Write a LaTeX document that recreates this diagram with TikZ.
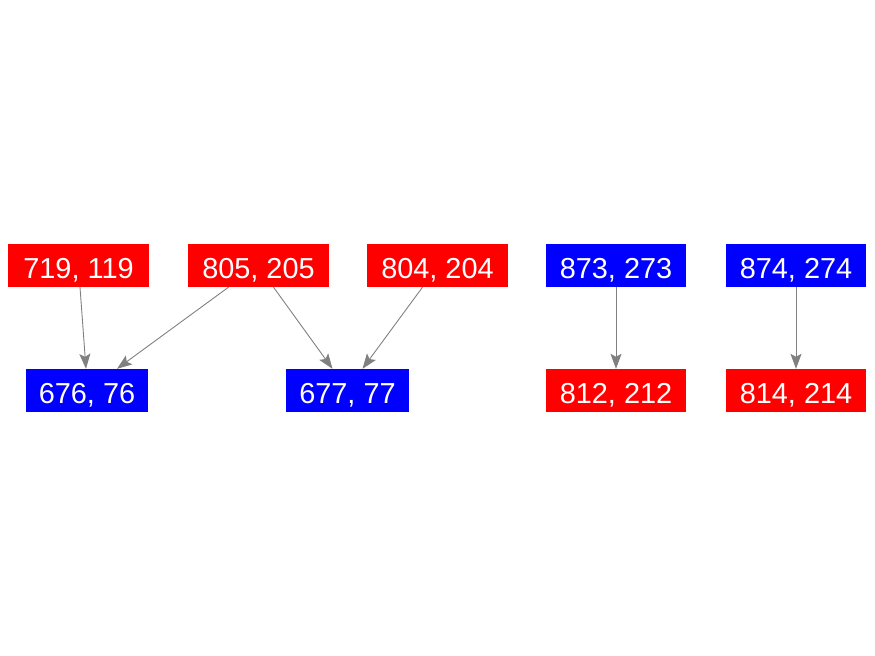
\documentclass[tikz,border=0pt]{standalone}
\usepackage{fontspec}
\setmainfont{Liberation Sans}
\usepackage{tikz}
\usetikzlibrary{arrows.meta, positioning}

\begin{document}
\begin{tikzpicture}[
		x=1bp, y=-1bp,
		font=\fontsize{29}{32}\selectfont,
		redbox/.style={rectangle, fill=red, text=white, inner sep=0pt,
			text height=26bp, text depth=0bp,
			minimum width=141bp, minimum height=43bp},
		bluebox/.style={rectangle, fill=blue, text=white, inner sep=0pt,
			text height=26bp, text depth=0bp,
			minimum width=122bp, minimum height=43bp},
		line/.style={-{Stealth[length=15bp, width=11bp, inset=3bp]}, draw=gray, line width=0.9bp}
		]
		\useasboundingbox (0,0) rectangle (875,656);
		
		% 1. Fila superior
		\node[redbox] (n719) at (78.5,265.5) {719, 119};
		\node[redbox] (n805) at (258.5,265.5) {805, 205};
		\node[redbox] (n804) at (437.5,265.5) {804, 204};
		\node[bluebox, minimum width=140bp] (n873) at (616,265.5) {873, 273};
		\node[bluebox, minimum width=140bp] (n874) at (796,265.5) {874, 274};
		
		% 2. Fila inferior
		\node[bluebox] (n676) at (87,390.5) {676, 76};
		\node[bluebox, minimum width=123bp] (n677) at (347.5,390.5) {677, 77};
		\node[redbox, minimum width=140bp] (n812) at (616,390.5) {812, 212};
		\node[redbox, minimum width=140bp] (n814) at (796,390.5) {814, 214};
		
		% 3. Conexiones
		\draw[line] ([xshift=1.5bp]n719.south) -- ([xshift=-1bp]n676.north);
		\draw[line] ([xshift=-30bp]n805.south) -- ([xshift=30bp]n676.north);
		\draw[line] ([xshift=15bp]n805.south) -- ([xshift=-15bp]n677.north);
		\draw[line] ([xshift=-15bp]n804.south) -- ([xshift=15bp]n677.north);
		\draw[line] (n873) -- (n812);
		\draw[line] (n874) -- (n814);
		
	\end{tikzpicture}
\end{document}
